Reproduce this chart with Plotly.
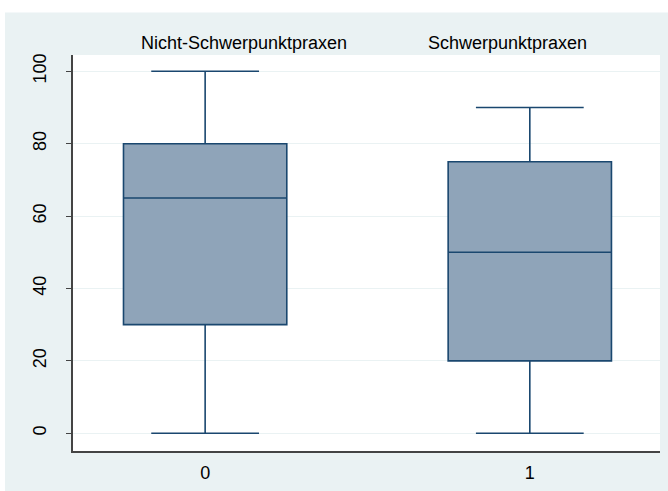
import plotly.graph_objects as go

# Box plot summary statistics per group
groups = [0, 1]
group_labels = ["Nicht-Schwerpunktpraxen", "Schwerpunktpraxen"]
lower_whisker = [0, 0]
q1 = [30, 20]
median = [65, 50]
q3 = [80, 75]
upper_whisker = [100, 90]
y_ticks = [0, 20, 40, 60, 80, 100]

W, H = 668, 491
L, R, T, B = 73, 8, 55, 35
plot_w = W - L - R
plot_h = H - T - B

def px_x(px):
    return (px - L) / plot_w

def px_y(py):
    return (H - B - py) / plot_h

BG = "#EAF2F3"
NAVY = "#1A476F"
FONT = "Arial, Liberation Sans, sans-serif"
FS = 18

fig = go.Figure()
fig.add_trace(go.Box(
    x=groups,
    q1=q1, median=median, q3=q3,
    lowerfence=lower_whisker, upperfence=upper_whisker,
    width=0.503,
    whiskerwidth=0.66,
    fillcolor="rgb(143,164,185)",
    line=dict(color=NAVY, width=1.6),
    boxpoints=False,
    hoverinfo="skip",
    showlegend=False,
))

shapes = [
    dict(type="rect", xref="paper", yref="paper",
         x0=px_x(5), x1=px_x(W + 5), y0=px_y(H + 10), y1=px_y(12),
         fillcolor=BG, line=dict(width=0), layer="below"),
    dict(type="rect", xref="paper", yref="paper",
         x0=0, x1=1, y0=0, y1=1,
         fillcolor="white", line=dict(width=0), layer="below"),
]

annotations = [
    dict(text=group_labels[0], xref="paper", yref="paper",
         x=px_x(139), y=px_y(43), xanchor="left", yanchor="middle",
         showarrow=False, font=dict(family=FONT, size=FS, color="#000")),
    dict(text=group_labels[1], xref="paper", yref="paper",
         x=px_x(426), y=px_y(43), xanchor="left", yanchor="middle",
         showarrow=False, font=dict(family=FONT, size=FS, color="#000")),
]

fig.update_layout(
    width=W, height=H,
    margin=dict(l=L, r=R, t=T, b=B, pad=0),
    paper_bgcolor="white",
    plot_bgcolor="white",
    font=dict(family=FONT, size=FS, color="#000"),
    shapes=shapes,
    annotations=annotations,
    xaxis=dict(
        range=[-0.407, 1.401],
        tickvals=groups, ticktext=[str(g) for g in groups],
        showgrid=False, zeroline=False,
        showline=True, linecolor="#444", linewidth=1.5,
        ticks="", ticklabelstandoff=5,
    ),
    yaxis=dict(
        range=[-4.9, 104.5],
        tickvals=y_ticks,
        showgrid=True, gridcolor=BG, gridwidth=1.2,
        zeroline=False,
        showline=True, linecolor="#444", linewidth=1.5,
        ticks="outside", ticklen=5, tickcolor="#444", tickwidth=1.2,
        tickangle=-90, ticklabelstandoff=13,
    ),
)

fig.write_html("out.html")
